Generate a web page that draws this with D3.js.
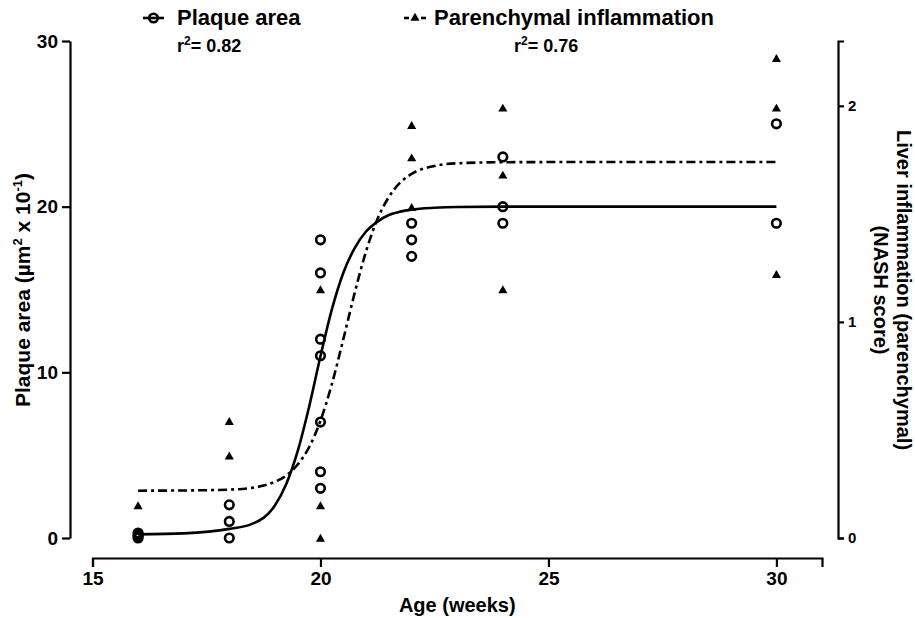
<!DOCTYPE html>
<html><head><meta charset="utf-8">
<script src="https://cdn.jsdelivr.net/npm/d3@7/dist/d3.min.js"></script>
<style>
body{margin:0;background:#fff;}
svg text{font-family:"Liberation Sans",Arial,sans-serif;font-weight:bold;fill:#000;}
</style></head>
<body>
<svg id="c" width="915" height="618"></svg>
<script>
// ---- data ----
const plaqueAge  = [16,16,16,16, 18,18,18, 20,20,20,20,20,20,20, 22,22,22, 24,24,24, 30,30];
const plaqueArea = [0,0.1,0.2,0.3, 0,1,2, 18,16,12,11,7,4,3, 19,18,17, 23,20,19, 25,19];
const inflAge   = [16, 18,18, 20,20,20, 22,22,22, 24,24,24, 30,30,30];
const inflScore = [0.15, 0.54,0.38, 1.15,0.15,0, 1.91,1.76,1.53, 1.99,1.68,1.15, 2.22,1.99,1.22];
// fitted curves
const fitAge    = [16,17,18,18.5,19,19.25,19.5,19.75,20,20.25,20.5,20.75,21,21.25,21.5,21.75,22,22.5,23,24,26,28,30];
const plaqueFit = [0.22,0.28,0.55,0.85,1.96,3.26,5.24,7.91,10.97,13.8,16.0,17.5,18.5,19.1,19.5,19.7,19.82,19.93,19.98,20,20,20,20];
const inflFit   = [0.219,0.22,0.224,0.232,0.26,0.289,0.34,0.42,0.543,0.712,0.919,1.134,1.327,1.476,1.578,1.645,1.685,1.722,1.734,1.739,1.74,1.74,1.74];
const xTicks = [15,20,25,30];
const yLeftTicks = [0,10,20,30];
const yRightTicks = [0,1,2];
const r2Plaque = "0.82", r2Infl = "0.76";

const svg = d3.select("#c");
const x  = d3.scaleLinear().domain([15,31]).range([92.5,822]);
const yL = d3.scaleLinear().domain([0,30]).range([538,41]);
const yR = d3.scaleLinear().domain([0,2.3]).range([538,41]);

// axes
const gx = svg.append("g").attr("transform","translate(0,558)")
  .call(d3.axisBottom(x).tickValues(xTicks).tickSize(9).tickSizeOuter(9).tickPadding(5).tickFormat(d3.format("d")));
const gl = svg.append("g").attr("transform","translate(70,0)")
  .call(d3.axisLeft(yL).tickValues(yLeftTicks).tickSize(8).tickSizeOuter(0).tickPadding(4).tickFormat(d3.format("d")));
const gr = svg.append("g").attr("transform","translate(838,0)")
  .call(d3.axisRight(yR).tickValues(yRightTicks).tickSize(6).tickSizeOuter(6).tickPadding(4).tickFormat(d3.format("d")));
[gx,gl,gr].forEach(g=>{
  g.selectAll("path,line").attr("stroke","#000").attr("stroke-width",2.2);
  g.selectAll("text").attr("font-size",19);
});
gr.selectAll("text").attr("font-size",15);

// axis titles
svg.append("text").attr("x",(x(15)+x(31))/2).attr("y",612).attr("text-anchor","middle")
  .attr("font-size",20).text("Age (weeks)");
const lt = svg.append("text").attr("transform","translate(30,290) rotate(-90)").attr("text-anchor","middle").attr("font-size",21);
lt.append("tspan").text("Plaque area (\u00b5m");
lt.append("tspan").attr("dy",-8).attr("font-size",13).text("2");
lt.append("tspan").attr("dy",8).text(" x 10");
lt.append("tspan").attr("dy",-8).attr("font-size",13).text("-1");
lt.append("tspan").attr("dy",8).text(")");
svg.append("text").attr("transform","translate(897,290) rotate(90)").attr("text-anchor","middle")
  .attr("font-size",20).text("Liver inflammation (parenchymal)");
svg.append("text").attr("transform","translate(874,290) rotate(90)").attr("text-anchor","middle")
  .attr("font-size",20).text("(NASH score)");

// curves
const lineL = d3.line().x((d,i)=>x(fitAge[i])).y(d=>yL(d)).curve(d3.curveMonotoneX);
const lineR = d3.line().x((d,i)=>x(fitAge[i])).y(d=>yR(d)).curve(d3.curveMonotoneX);
svg.append("path").attr("d",lineR(inflFit)).attr("fill","none").attr("stroke","#000")
  .attr("stroke-width",2.6).attr("stroke-dasharray","9,4,3,4");
svg.append("path").attr("d",lineL(plaqueFit)).attr("fill","none").attr("stroke","#000")
  .attr("stroke-width",2.6);

// points
svg.append("g").selectAll("circle").data(plaqueArea).join("circle")
  .attr("cx",(d,i)=>x(plaqueAge[i])).attr("cy",d=>yL(d)).attr("r",4.3)
  .attr("fill","none").attr("stroke","#000").attr("stroke-width",2.6);
const tri = d3.symbol().type(d3.symbolTriangle).size(36);
svg.append("g").selectAll("path").data(inflScore).join("path")
  .attr("d",tri).attr("transform",(d,i)=>`translate(${x(inflAge[i])},${yR(d)+1})`).attr("fill","#000");

// legend
const lg = svg.append("g");
lg.append("line").attr("x1",143).attr("x2",164).attr("y1",18).attr("y2",18).attr("stroke","#000").attr("stroke-width",2.6);
lg.append("circle").attr("cx",153.5).attr("cy",18).attr("r",4.3).attr("fill","none").attr("stroke","#000").attr("stroke-width",2.6);
lg.append("text").attr("x",177).attr("y",25).attr("font-size",22).text("Plaque area");
lg.append("line").attr("x1",404).attr("x2",409).attr("y1",18).attr("y2",18).attr("stroke","#000").attr("stroke-width",2.6);
lg.append("line").attr("x1",421).attr("x2",426).attr("y1",18).attr("y2",18).attr("stroke","#000").attr("stroke-width",2.6);
lg.append("path").attr("d",tri).attr("transform","translate(415,18)").attr("fill","#000");
lg.append("text").attr("x",434).attr("y",25).attr("font-size",22).text("Parenchymal inflammation");
function r2(xp,val){
  const t = lg.append("text").attr("x",xp).attr("y",52).attr("font-size",18);
  t.append("tspan").text("r");
  t.append("tspan").attr("dy",-7).attr("font-size",12).text("2");
  t.append("tspan").attr("dy",7).text("= "+val);
}
r2(177,r2Plaque);
r2(514,r2Infl);
</script>
</body></html>
